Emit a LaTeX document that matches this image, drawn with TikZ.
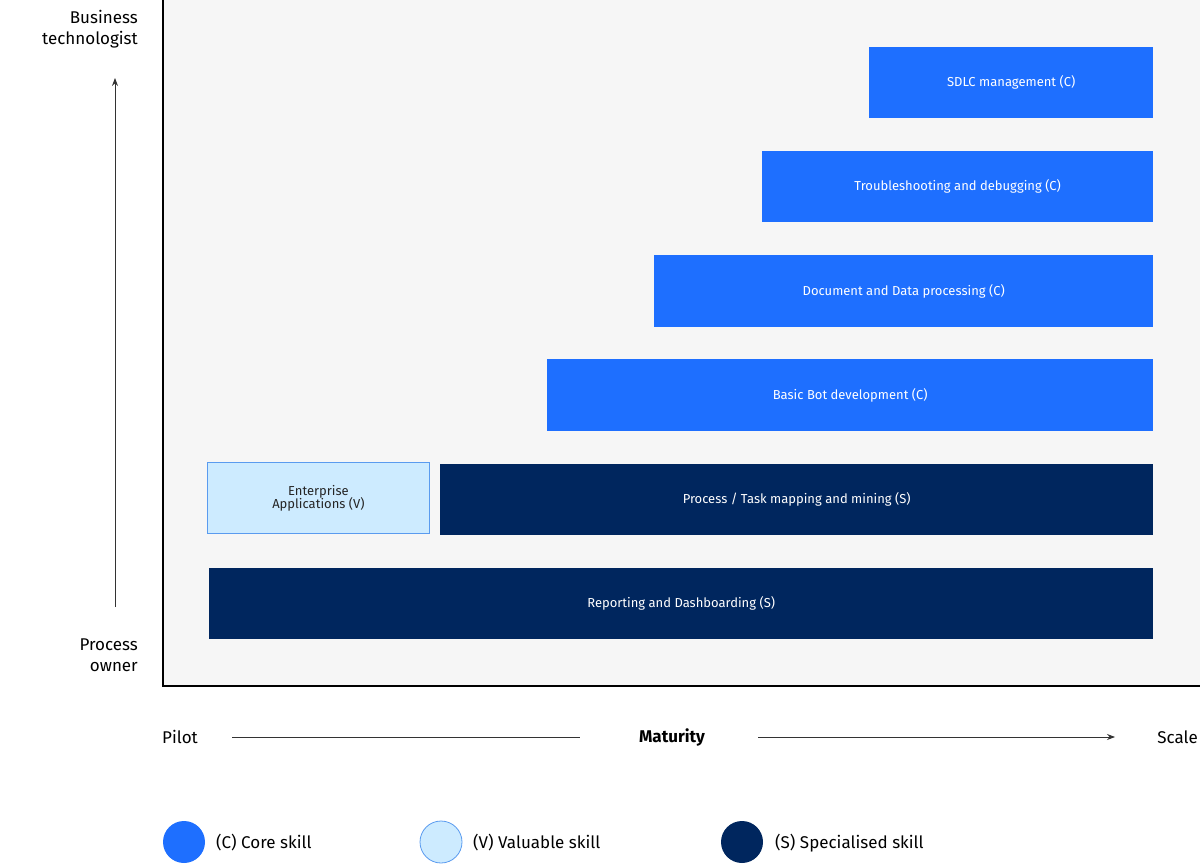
\documentclass[tikz,border=0pt]{standalone}
\usepackage{fontspec}
\setmainfont{Fira Sans}
\usetikzlibrary{arrows.meta}
\definecolor{core}{HTML}{1E6FFF}
\definecolor{spec}{HTML}{00265E}
\definecolor{valu}{HTML}{CDEBFF}
\definecolor{valb}{HTML}{5A9BEF}
\definecolor{bg}{HTML}{F6F6F6}
\begin{document}
\begin{tikzpicture}[x=1pt,y=-1pt,
  bx/.style={anchor=north west,inner sep=0,text=white,font=\fontsize{13}{15}\selectfont,align=center},
  lbl/.style={font=\fontsize{17}{20}\selectfont,inner sep=0},
  ln/.style={line width=0.8pt,draw=black!80}]
\useasboundingbox (0,0) rectangle (1200,864);
\fill[bg] (163,0) rectangle (1200,686);
\draw[line width=1.8pt] (163,0) -- (163,686) -- (1200,686);
\node[bx,fill=core,minimum width=284,minimum height=71] (sdlc) at (869,47) {SDLC management (C)};
\node[bx,fill=core,minimum width=391,minimum height=71] (tr) at (762,151) {Troubleshooting and debugging (C)};
\node[bx,fill=core,minimum width=499,minimum height=72] (doc) at (654,255) {Document and Data processing (C)};
\node[bx,fill=core,minimum width=606,minimum height=72] (bot) at (547,359) {Basic Bot development (C)};
\node[bx,fill=valu,draw=valb,line width=0.8pt,text=black!85,minimum width=222,minimum height=71] (ent) at (207,462) {Enterprise\\[-2pt]Applications (V)};
\node[bx,fill=spec,minimum width=713,minimum height=71] (proc) at (440,464) {Process / Task mapping and mining (S)};
\node[bx,fill=spec,minimum width=944,minimum height=71] (rep) at (209,568) {Reporting and Dashboarding (S)};
\node[lbl,anchor=east,align=right,font=\fontsize{17}{21}\selectfont] (bt) at (138,29) {Business\\technologist};
\node[lbl,anchor=east,align=right,font=\fontsize{17}{21}\selectfont] (po) at (138,655) {Process\\owner};
\coordinate (ua) at (115,607); \coordinate (ub) at (115,78);
\draw[ln,-{Stealth[length=8pt,width=6pt]}] (ua) -- (ub);
\node[lbl,anchor=west] (pilot) at (162,737) {Pilot};
\node[lbl,anchor=east] (scale) at (1198,737) {Scale};
\node[lbl,font=\bfseries\fontsize{17}{20}\selectfont] (mat) at (672,737) {Maturity};
\draw[ln] (232,737) -- (580,737);
\draw[ln,-{Stealth[length=8pt,width=6pt]}] (758,737) -- (1115,737);
\fill[core] (184,842) circle (21);
\fill[valu,draw=valb,line width=0.8pt] (441,842) circle (21);
\fill[spec] (742,842) circle (21);
\node[lbl,anchor=west] (l1) at (216,843) {(C) Core skill};
\node[lbl,anchor=west] (l2) at (473,843) {(V) Valuable skill};
\node[lbl,anchor=west] (l3) at (775,843) {(S) Specialised skill};
\end{tikzpicture}
\end{document}
